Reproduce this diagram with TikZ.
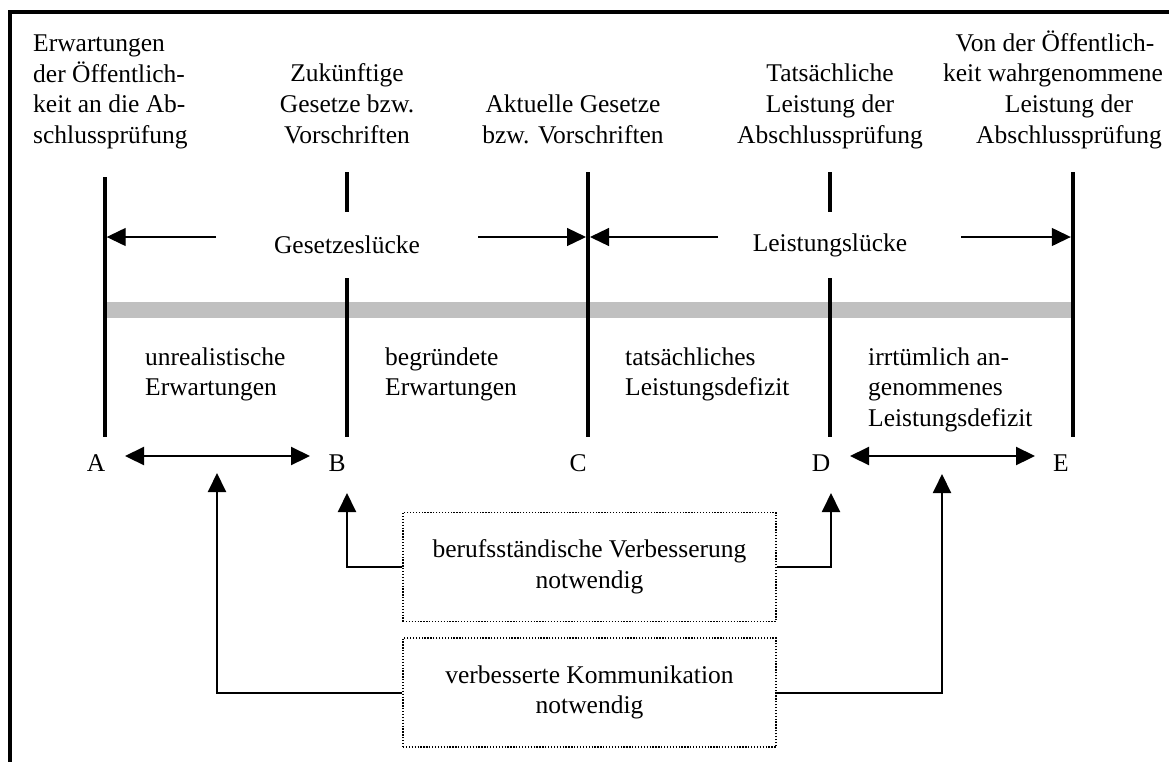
\documentclass[tikz,border=0pt]{standalone}
\usepackage{fontspec}
\setmainfont{Liberation Serif}
\usetikzlibrary{arrows.meta}
\definecolor{bargray}{RGB}{192,192,192}
\begin{document}
\begin{tikzpicture}[x=1pt,y=-1pt,
  font=\fontsize{25.5}{30.6}\selectfont,
  every node/.style={inner sep=0pt},
  lbl/.style={anchor=base},
  vline/.style={line width=4pt},
  gaplabel/.style={fill=white, minimum width=250pt, minimum height=66pt},
  gaparrow/.style={line width=1.3pt,-{Triangle[length=19pt,width=18pt]},shorten >=2pt},
  dblarrow/.style={line width=2.2pt,{Triangle[length=19pt,width=18pt]}-{Triangle[length=19pt,width=18pt]}},
  uparrow/.style={line width=2pt,-{Triangle[length=19pt,width=18pt]}},
  dotbox/.style={draw=black, line width=1.4pt, dash pattern=on 1.3pt off 1.6pt,
    minimum width=373pt, minimum height=109pt, align=center}]
\useasboundingbox (0,0) rectangle (1169,761);
% frame (open at right and bottom)
\draw[line width=4pt] (10.3,765) -- (10.3,12) -- (1173,12);
% gray bar
\fill[bargray] (106,302) rectangle (1071,318);
% vertical lines
\coordinate (vA-t) at (104.7,177); \coordinate (vA-b) at (104.7,437);
\coordinate (vB-t) at (347,172);   \coordinate (vB-b) at (347,437);
\coordinate (vC-t) at (588,172);   \coordinate (vC-b) at (588,437);
\coordinate (vD-t) at (830,172);   \coordinate (vD-b) at (830,437);
\coordinate (vE-t) at (1072.8,172);\coordinate (vE-b) at (1072.8,437);
\draw[vline] (vA-t) -- (vA-b);
\draw[vline] (vB-t) -- (vB-b);
\draw[vline] (vC-t) -- (vC-b);
\draw[vline] (vD-t) -- (vD-b);
\draw[vline] (vE-t) -- (vE-b);
% top labels
\node[anchor=base west] (tA) at (33,51.5) {\begin{tabular}[t]{@{}l@{}}Erwartungen\\der Öffentlich-\\keit an die Ab-\\schlussprüfung\end{tabular}};
\node[lbl] (tB) at (347,143) {\begin{tabular}[b]{@{}c@{}}Zukünftige\\Gesetze bzw.\\Vorschriften\end{tabular}};
\node[lbl] (tC) at (573,143) {\begin{tabular}[b]{@{}c@{}}Aktuelle Gesetze\\bzw. Vorschriften\end{tabular}};
\node[lbl] (tD) at (830,143) {\begin{tabular}[b]{@{}c@{}}Tatsächliche\\Leistung der\\Abschlussprüfung\end{tabular}};
\node[lbl] (tE) at (1069,143) {\begin{tabular}[b]{@{}c@{}}\hspace*{-14pt}\makebox[0pt]{Von der Öffentlich-}\hspace*{14pt}\\\hspace*{-16pt}\makebox[0pt]{keit wahrgenommene}\hspace*{16pt}\\Leistung der\\Abschlussprüfung\end{tabular}};
% gap labels and arrows
\node[gaplabel] (gap1) at (347,245) {Gesetzeslücke};
\node[gaplabel] (gap2) at (830,245) {Leistungslücke};
\coordinate (g1l) at (216,237); \coordinate (g1r) at (478,237);
\coordinate (g2l) at (718,237); \coordinate (g2r) at (961,237);
\draw[gaparrow] (g1l) -- (g1l -| vA-t);
\draw[gaparrow] (g1r) -- (g1r -| vC-t);
\draw[gaparrow] (g2l) -- (g2l -| vC-t);
\draw[gaparrow] (g2r) -- (g2r -| vE-t);
% middle labels
\node[anchor=base west] (mA) at (145,365) {\begin{tabular}[t]{@{}l@{}}unrealistische\\Erwartungen\end{tabular}};
\node[anchor=base west] (mB) at (385,365) {\begin{tabular}[t]{@{}l@{}}begründete\\Erwartungen\end{tabular}};
\node[anchor=base west] (mC) at (625,365) {\begin{tabular}[t]{@{}l@{}}tatsächliches\\Leistungsdefizit\end{tabular}};
\node[anchor=base west] (mD) at (868,365) {\begin{tabular}[t]{@{}l@{}}irrtümlich an-\\genommenes\\Leistungsdefizit\end{tabular}};
% letters
\node[lbl] (A) at (96,471) {A};
\node[lbl] (B) at (337,471) {B};
\node[lbl] (C) at (578,471) {C};
\node[lbl] (D) at (821,471) {D};
\node[lbl] (E) at (1061,471) {E};
% double arrows
\coordinate (ab-l) at (125,456); \coordinate (ab-r) at (310,456);
\coordinate (de-l) at (850,456); \coordinate (de-r) at (1035,456);
\draw[dblarrow] (ab-l) -- (ab-r);
\draw[dblarrow] (de-l) -- (de-r);
% boxes
\node[dotbox] (box1) at (589.5,567) {\begin{tabular}{@{}c@{}}berufsständische Verbesserung\\notwendig\end{tabular}};
\node[dotbox] (box2) at (589.5,692.5) {\begin{tabular}{@{}c@{}}verbesserte Kommunikation\\notwendig\end{tabular}};
% connectors
\coordinate (upB) at (347,493);
\coordinate (upD) at (831,493);
\coordinate (upAB) at (217,473);
\coordinate (upDE) at (942,474);
\draw[uparrow] (box1.west) -| (upB);
\draw[uparrow] (box1.east) -| (upD);
\draw[uparrow] (box2.west) -| (upAB);
\draw[uparrow] (box2.east) -| (upDE);
\end{tikzpicture}
\end{document}
